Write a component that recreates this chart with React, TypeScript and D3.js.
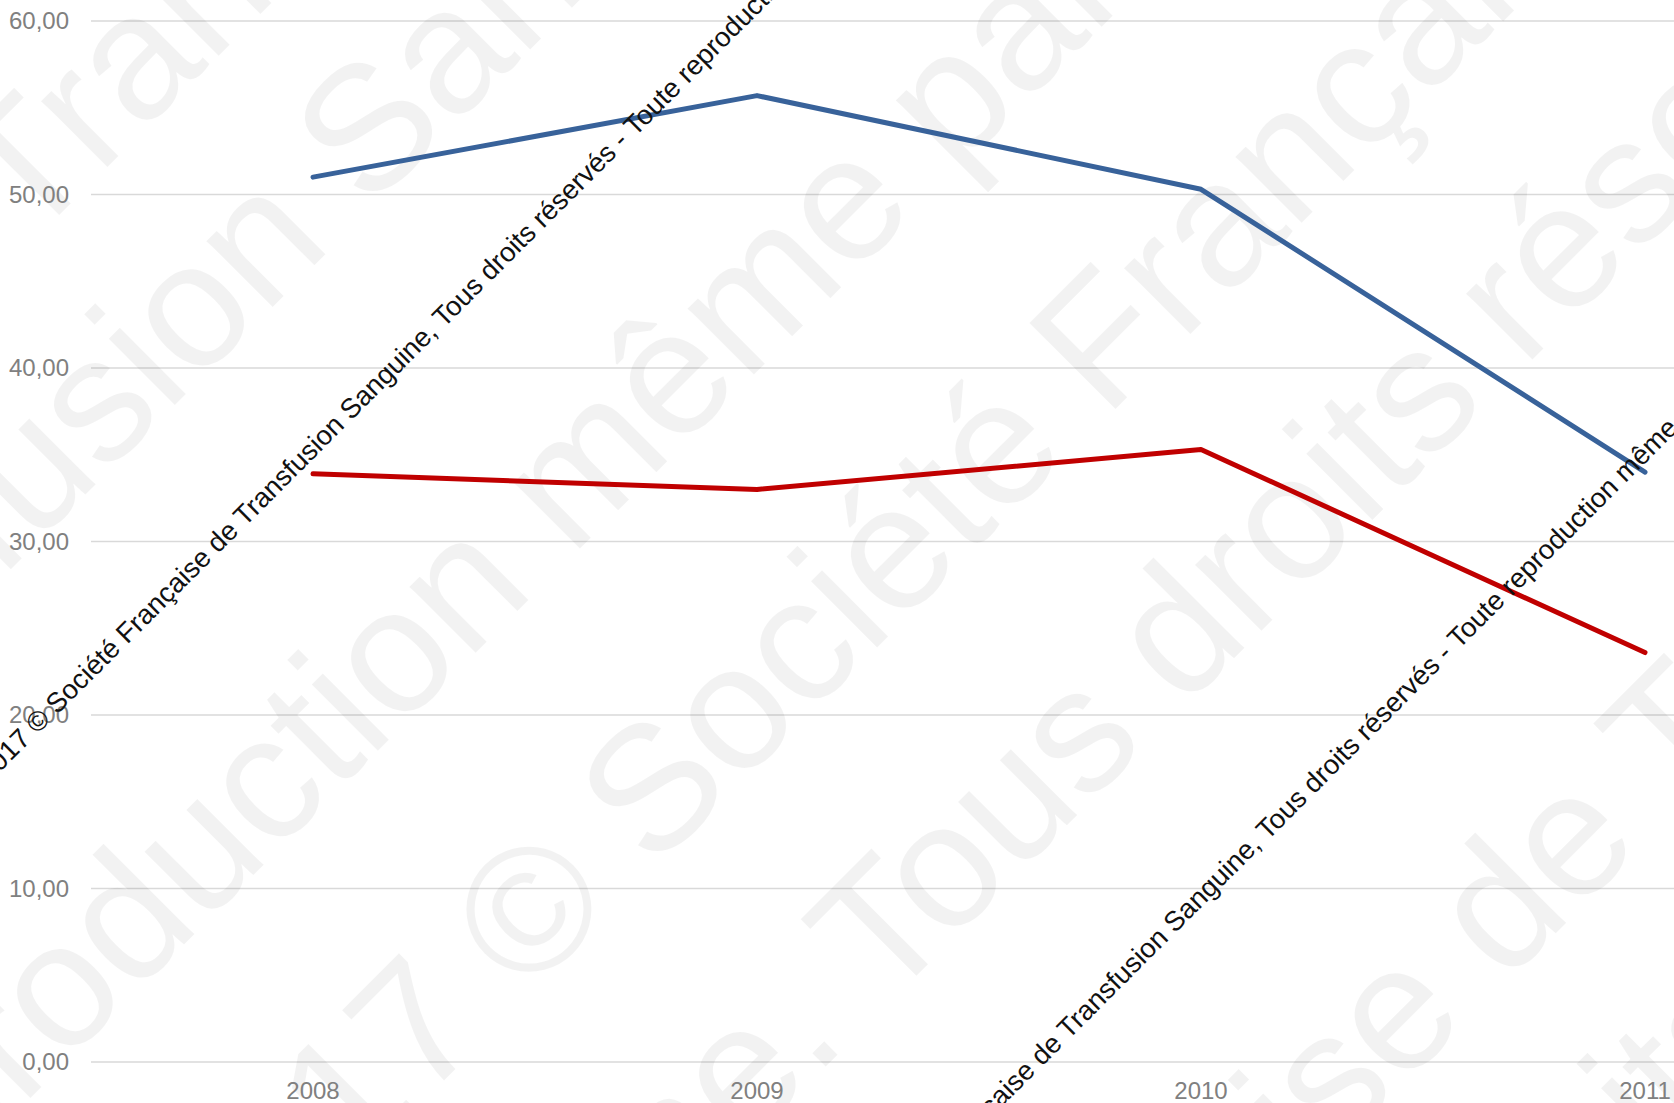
import React from "react";
import * as d3 from "d3";

// ---- data ----
const years = ["2008", "2009", "2010", "2011"];
const seriesBlue = [51.0, 55.7, 50.3, 34.0];
const seriesRed = [33.9, 33.0, 35.3, 23.6];
const yTicks = [0, 10, 20, 30, 40, 50, 60];

// ---- watermark text ----
const wmText =
  "2017 © Société Française de Transfusion Sanguine. Tous droits réservés - Toute reproduction même partielle interdite. ";
const wmLines = [
  { anchor: "Transfusion", u: -156, v: 194 },
  { anchor: "Sanguine", u: 111, v: 410 },
  { anchor: "même", u: 10, v: 798 },
  { anchor: "©", u: -334, v: 1078 },
  { anchor: "Tous", u: -88, v: 1338 },
  { anchor: "de Transfusion", u: 368, v: 1760 },
  { anchor: "ts réservés", u: 390, v: 1995 },
];
const copyText =
  "2017 © Société Française de Transfusion Sanguine, Tous droits réservés - Toute reproduction même partielle interdite";
const copyLines = [
  { anchor: "Toute", u: 352, v: 546 },
  { anchor: "Toute", u: 572, v: 1491 },
];

const W = 1674;
const H = 1103;
const FONT = "'Liberation Sans', Arial, Helvetica, sans-serif";

const fmt = d3
  .formatLocale({ decimal: ",", thousands: " ", grouping: [3], currency: ["", "€"] })
  .format(".2f");

function splitAt(text: string, anchor: string, repeat: boolean) {
  if (repeat) {
    const full = text + text + text;
    const idx = text.length + text.indexOf(anchor);
    return { before: full.slice(0, idx), after: full.slice(idx) };
  }
  const idx = text.indexOf(anchor);
  return { before: text.slice(0, idx), after: text.slice(idx) };
}

export default function App() {
  const x = d3.scaleBand<string>().domain(years).range([91, 91 + 4 * 444]).padding(0);
  const y = d3.scaleLinear().domain([0, 60]).range([1062, 21]);
  const cx = (d: string) => (x(d) as number) + x.bandwidth() / 2;

  const line = d3
    .line<number>()
    .x((_, i) => cx(years[i]))
    .y((d) => y(d));

  return (
    <svg
      width={W}
      height={H}
      style={{ position: "absolute", left: 0, top: 0, background: "#fff" }}
      fontFamily={FONT}
    >
      <rect x={0} y={0} width={W} height={H} fill="#ffffff" />
      {/* gridlines */}
      {yTicks.map((t) => (
        <line
          key={"g" + t}
          x1={x.range()[0]}
          x2={W}
          y1={y(t)}
          y2={y(t)}
          stroke="#d9d9d9"
          strokeWidth={1.5}
        />
      ))}
      {/* watermark */}
      <g transform="rotate(-45)" fill="#000" fillOpacity={0.05} fontSize={177}>
        {wmLines.map((l, i) => {
          const s = splitAt(wmText, l.anchor, true);
          return (
            <g key={"wm" + i}>
              <text x={l.u} y={l.v} textAnchor="end" style={{ whiteSpace: "pre" }}>
                {s.before}
              </text>
              <text x={l.u} y={l.v} textAnchor="start" style={{ whiteSpace: "pre" }}>
                {s.after}
              </text>
            </g>
          );
        })}
      </g>
      {/* y labels */}
      {yTicks.map((t) => (
        <text
          key={"yl" + t}
          x={69}
          y={y(t)}
          dy="0.35em"
          textAnchor="end"
          fontSize={24}
          fill="#808080"
        >
          {fmt(t)}
        </text>
      ))}
      {/* x labels */}
      {years.map((yr) => (
        <text key={"xl" + yr} x={cx(yr)} y={1099} textAnchor="middle" fontSize={24} fill="#808080">
          {yr}
        </text>
      ))}
      {/* series */}
      <path
        d={line(seriesBlue) || ""}
        fill="none"
        stroke="#38629a"
        strokeWidth={5}
        strokeLinecap="round"
        strokeLinejoin="round"
      />
      <path
        d={line(seriesRed) || ""}
        fill="none"
        stroke="#c00000"
        strokeWidth={5}
        strokeLinecap="round"
        strokeLinejoin="round"
      />
      {/* copyright overlays */}
      <g transform="rotate(-45)" fill="#111" fontSize={27.5}>
        {copyLines.map((l, i) => {
          const s = splitAt(copyText, l.anchor, false);
          return (
            <g key={"cp" + i}>
              <text x={l.u} y={l.v} textAnchor="end" style={{ whiteSpace: "pre" }}>
                {s.before}
              </text>
              <text x={l.u} y={l.v} textAnchor="start" style={{ whiteSpace: "pre" }}>
                {s.after}
              </text>
            </g>
          );
        })}
      </g>
    </svg>
  );
}
